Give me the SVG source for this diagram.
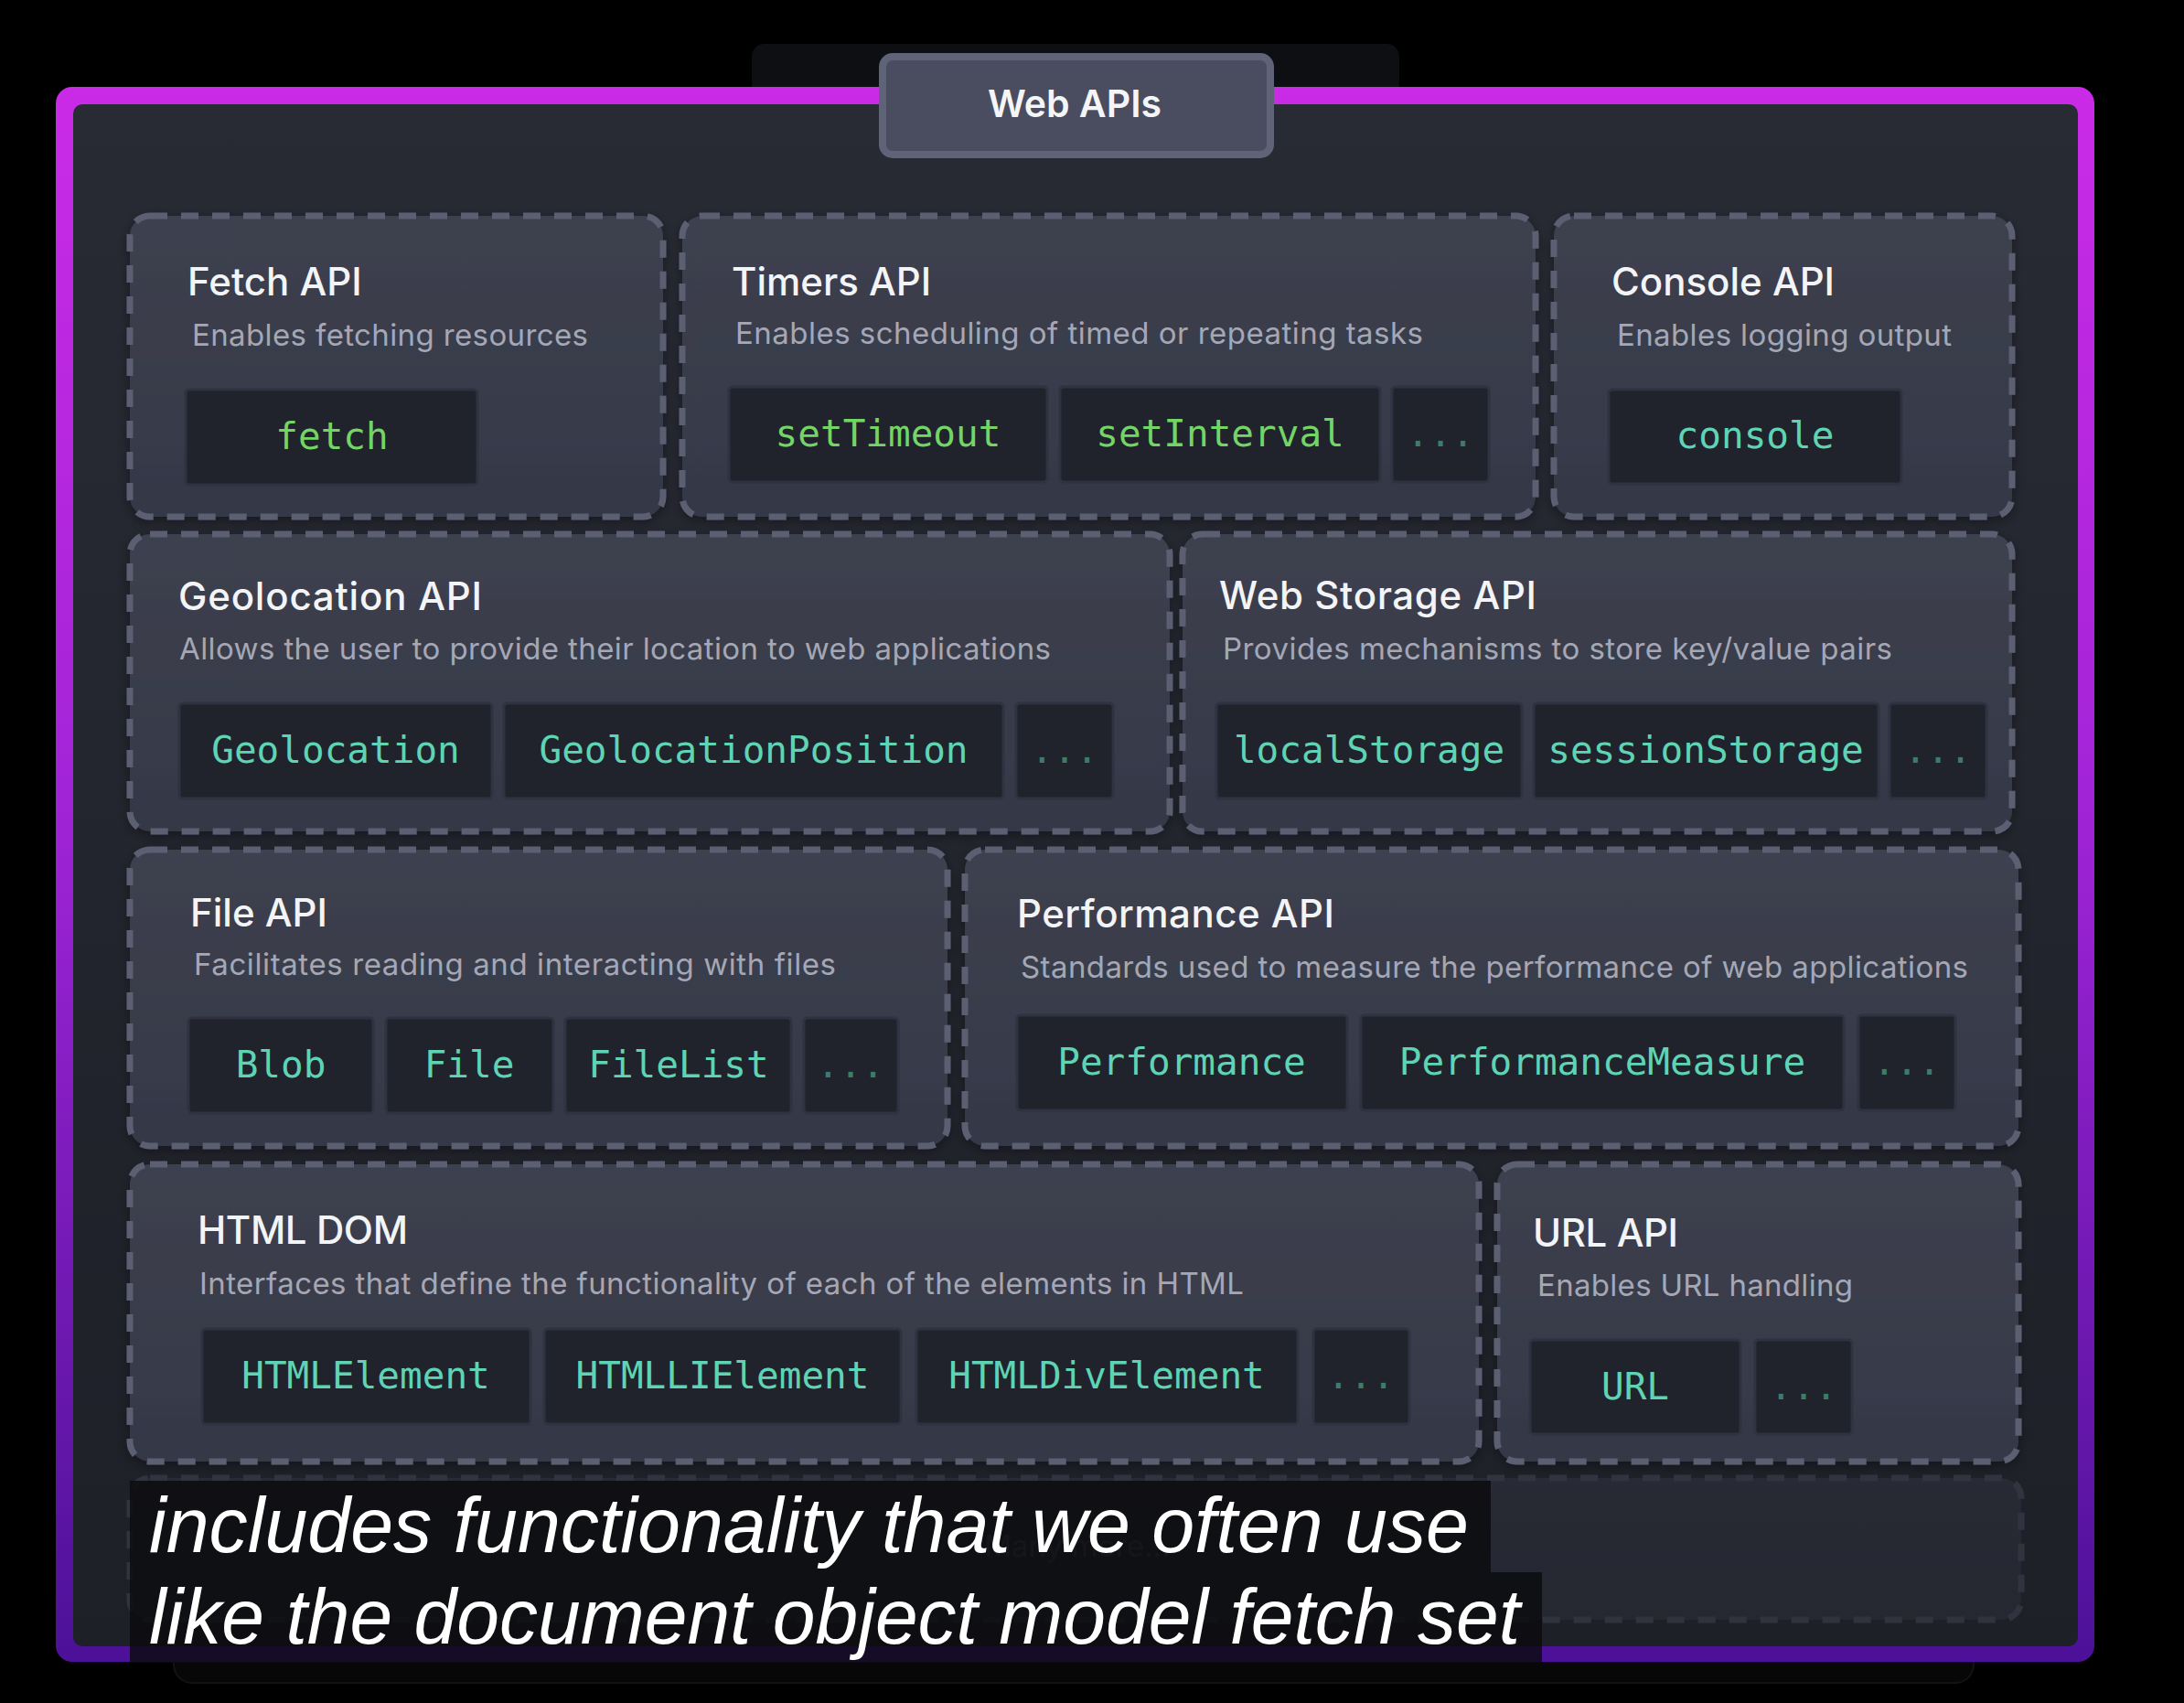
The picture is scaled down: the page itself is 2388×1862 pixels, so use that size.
<svg xmlns="http://www.w3.org/2000/svg" width="2388" height="1862" viewBox="0 0 2388 1862">
<defs>
<linearGradient id="frameG" x1="0" y1="0" x2="0" y2="1">
<stop offset="0" stop-color="#ca2be6"/>
<stop offset="0.45" stop-color="#a224d8"/>
<stop offset="1" stop-color="#4c1198"/>
</linearGradient>
<linearGradient id="innerG" x1="0" y1="0" x2="0" y2="1">
<stop offset="0" stop-color="#282a34"/>
<stop offset="1" stop-color="#1e2028"/>
</linearGradient>
<linearGradient id="cardG" x1="0" y1="0" x2="0" y2="1">
<stop offset="0" stop-color="#3d404f"/>
<stop offset="1" stop-color="#353846"/>
</linearGradient>
<filter id="sh" x="-5%" y="-5%" width="110%" height="115%">
<feDropShadow dx="0" dy="4" stdDeviation="6" flood-color="#000" flood-opacity="0.35"/>
</filter>
<style>
.card{fill:url(#cardG);stroke:#5c5f72;stroke-width:7;stroke-dasharray:19 15;}
.title{font-family:Inter,"Liberation Sans",sans-serif;font-weight:500;font-size:42px;fill:#f3f4f6;}
.sub{font-family:Inter,"Liberation Sans",sans-serif;font-weight:400;font-size:33px;fill:#a5a7b5;}
.chip{fill:#20232c;stroke:#2f3240;stroke-width:3;}
.code{font-family:"DejaVu Sans Mono","Liberation Mono",monospace;font-size:41px;text-anchor:middle;}
.g{fill:#74d466;}
.t{fill:#5fd4b5;}
.dots{fill:#3d7b6d;}
.cap{font-family:"Liberation Sans",Arial,sans-serif;font-style:italic;font-size:86px;fill:#ffffff;}
</style>
</defs>
<rect width="2388" height="1862" fill="#000"/>
<g id="backdrop">
<rect x="822" y="48" width="708" height="90" rx="14" fill="#0e0f12"/>
<rect x="190" y="1750" width="1968" height="90" rx="20" fill="#070708" stroke="#131316" stroke-width="2"/>
<rect x="61" y="95" width="2229" height="1722" rx="18" fill="url(#frameG)"/>
<rect x="80" y="114" width="2192" height="1686" rx="10" fill="url(#innerG)"/>
</g>
<g id="webapis">
<rect x="965" y="62" width="424" height="107" rx="11" fill="#4a4d5f" stroke="#5f6378" stroke-width="8"/>
<text x="1175" y="128" text-anchor="middle" font-family="Inter,'Liberation Sans',sans-serif" font-weight="600" font-size="41" fill="#f5f5f7">Web APIs</text>
</g>
<g id="connectors"/>
<g id="fetch">
<rect class="card" x="142" y="236" width="583" height="329" rx="22" filter="url(#sh)"/>
<text class="title" x="205" y="323">Fetch API</text>
<text class="sub" x="210" y="378" textLength="433">Enables fetching resources</text>
<rect class="chip" x="203" y="426" width="319" height="104" rx="4"/>
<text class="code g" x="363" y="491">fetch</text>
</g>
<g id="timers">
<rect class="card" x="746" y="236" width="933" height="329" rx="22" filter="url(#sh)"/>
<text class="title" x="800" y="323">Timers API</text>
<text class="sub" x="804" y="376" textLength="752">Enables scheduling of timed or repeating tasks</text>
<rect class="chip" x="797" y="423" width="348" height="104" rx="4"/>
<text class="code g" x="971" y="488">setTimeout</text>
<rect class="chip" x="1159" y="423" width="350" height="104" rx="4"/>
<text class="code g" x="1334" y="488">setInterval</text>
<rect class="chip" x="1522" y="423" width="106" height="104" rx="4"/>
<text class="code dots" x="1575" y="488">...</text>
</g>
<g id="console">
<rect class="card" x="1699" y="236" width="501" height="329" rx="22" filter="url(#sh)"/>
<text class="title" x="1762" y="323">Console API</text>
<text class="sub" x="1768" y="378" textLength="366">Enables logging output</text>
<rect class="chip" x="1759" y="426" width="320" height="103" rx="4"/>
<text class="code t" x="1919" y="490">console</text>
</g>
<g id="geolocation">
<rect class="card" x="142" y="584" width="1137" height="325" rx="22" filter="url(#sh)"/>
<text class="title" x="195" y="667" textLength="332">Geolocation API</text>
<text class="sub" x="196" y="721" textLength="953">Allows the user to provide their location to web applications</text>
<rect class="chip" x="196" y="769" width="342" height="104" rx="4"/>
<text class="code t" x="367" y="834">Geolocation</text>
<rect class="chip" x="551" y="769" width="546" height="104" rx="4"/>
<text class="code t" x="824" y="834">GeolocationPosition</text>
<rect class="chip" x="1111" y="769" width="106" height="104" rx="4"/>
<text class="code dots" x="1164" y="834">...</text>
</g>
<g id="webstorage">
<rect class="card" x="1293" y="584" width="907" height="325" rx="22" filter="url(#sh)"/>
<text class="title" x="1333" y="666" textLength="347">Web Storage API</text>
<text class="sub" x="1337" y="721" textLength="732">Provides mechanisms to store key/value pairs</text>
<rect class="chip" x="1330" y="769" width="334" height="104" rx="4"/>
<text class="code t" x="1497" y="834">localStorage</text>
<rect class="chip" x="1677" y="769" width="377" height="104" rx="4"/>
<text class="code t" x="1865" y="834">sessionStorage</text>
<rect class="chip" x="2066" y="769" width="106" height="104" rx="4"/>
<text class="code dots" x="2119" y="834">...</text>
</g>
<g id="file">
<rect class="card" x="142" y="929" width="894" height="324" rx="22" filter="url(#sh)"/>
<text class="title" x="208" y="1013">File API</text>
<text class="sub" x="212" y="1066" textLength="702">Facilitates reading and interacting with files</text>
<rect class="chip" x="206" y="1113" width="202" height="104" rx="4"/>
<text class="code t" x="307" y="1178">Blob</text>
<rect class="chip" x="422" y="1113" width="183" height="104" rx="4"/>
<text class="code t" x="513" y="1178">File</text>
<rect class="chip" x="618" y="1113" width="247" height="104" rx="4"/>
<text class="code t" x="742" y="1178">FileList</text>
<rect class="chip" x="879" y="1113" width="103" height="104" rx="4"/>
<text class="code dots" x="930" y="1178">...</text>
</g>
<g id="performance">
<rect class="card" x="1055" y="929" width="1152" height="324" rx="22" filter="url(#sh)"/>
<text class="title" x="1112" y="1014" textLength="347">Performance API</text>
<text class="sub" x="1116" y="1069" textLength="1036">Standards used to measure the performance of web applications</text>
<rect class="chip" x="1112" y="1110" width="361" height="104" rx="4"/>
<text class="code t" x="1292" y="1175">Performance</text>
<rect class="chip" x="1488" y="1110" width="528" height="104" rx="4"/>
<text class="code t" x="1752" y="1175">PerformanceMeasure</text>
<rect class="chip" x="2032" y="1110" width="106" height="104" rx="4"/>
<text class="code dots" x="2085" y="1175">...</text>
</g>
<g id="htmldom">
<rect class="card" x="142" y="1273" width="1475" height="325" rx="22" filter="url(#sh)"/>
<text class="title" x="216" y="1360" textLength="230">HTML DOM</text>
<text class="sub" x="218" y="1415" textLength="1142">Interfaces that define the functionality of each of the elements in HTML</text>
<rect class="chip" x="221" y="1453" width="359" height="104" rx="4"/>
<text class="code t" x="400" y="1518">HTMLElement</text>
<rect class="chip" x="595" y="1453" width="390" height="104" rx="4"/>
<text class="code t" x="790" y="1518">HTMLLIElement</text>
<rect class="chip" x="1002" y="1453" width="417" height="104" rx="4"/>
<text class="code t" x="1210" y="1518">HTMLDivElement</text>
<rect class="chip" x="1436" y="1453" width="105" height="104" rx="4"/>
<text class="code dots" x="1488" y="1518">...</text>
</g>
<g id="url">
<rect class="card" x="1637" y="1273" width="570" height="325" rx="22" filter="url(#sh)"/>
<text class="title" x="1676" y="1363" textLength="159">URL API</text>
<text class="sub" x="1681" y="1417" textLength="345">Enables URL handling</text>
<rect class="chip" x="1673" y="1465" width="230" height="103" rx="4"/>
<text class="code t" x="1788" y="1530">URL</text>
<rect class="chip" x="1919" y="1465" width="106" height="103" rx="4"/>
<text class="code dots" x="1972" y="1530">...</text>
</g>
<g id="more" opacity="0.3">
<rect class="card" x="142" y="1616" width="2068" height="155" rx="22"/>
<text class="sub" x="1178" y="1702" text-anchor="middle" font-size="34">Many more...</text>
</g>
<g id="caption">
<rect x="142" y="1619" width="1488" height="100" fill="#0b0b0e" fill-opacity="0.82"/>
<rect x="142" y="1719" width="1544" height="99" fill="#0b0b0e" fill-opacity="0.82"/>
<text class="cap" x="163" y="1697" textLength="1443" lengthAdjust="spacingAndGlyphs">includes functionality that we often use</text>
<text class="cap" x="163" y="1797" textLength="1499" lengthAdjust="spacingAndGlyphs">like the document object model fetch set</text>
</g>
</svg>
